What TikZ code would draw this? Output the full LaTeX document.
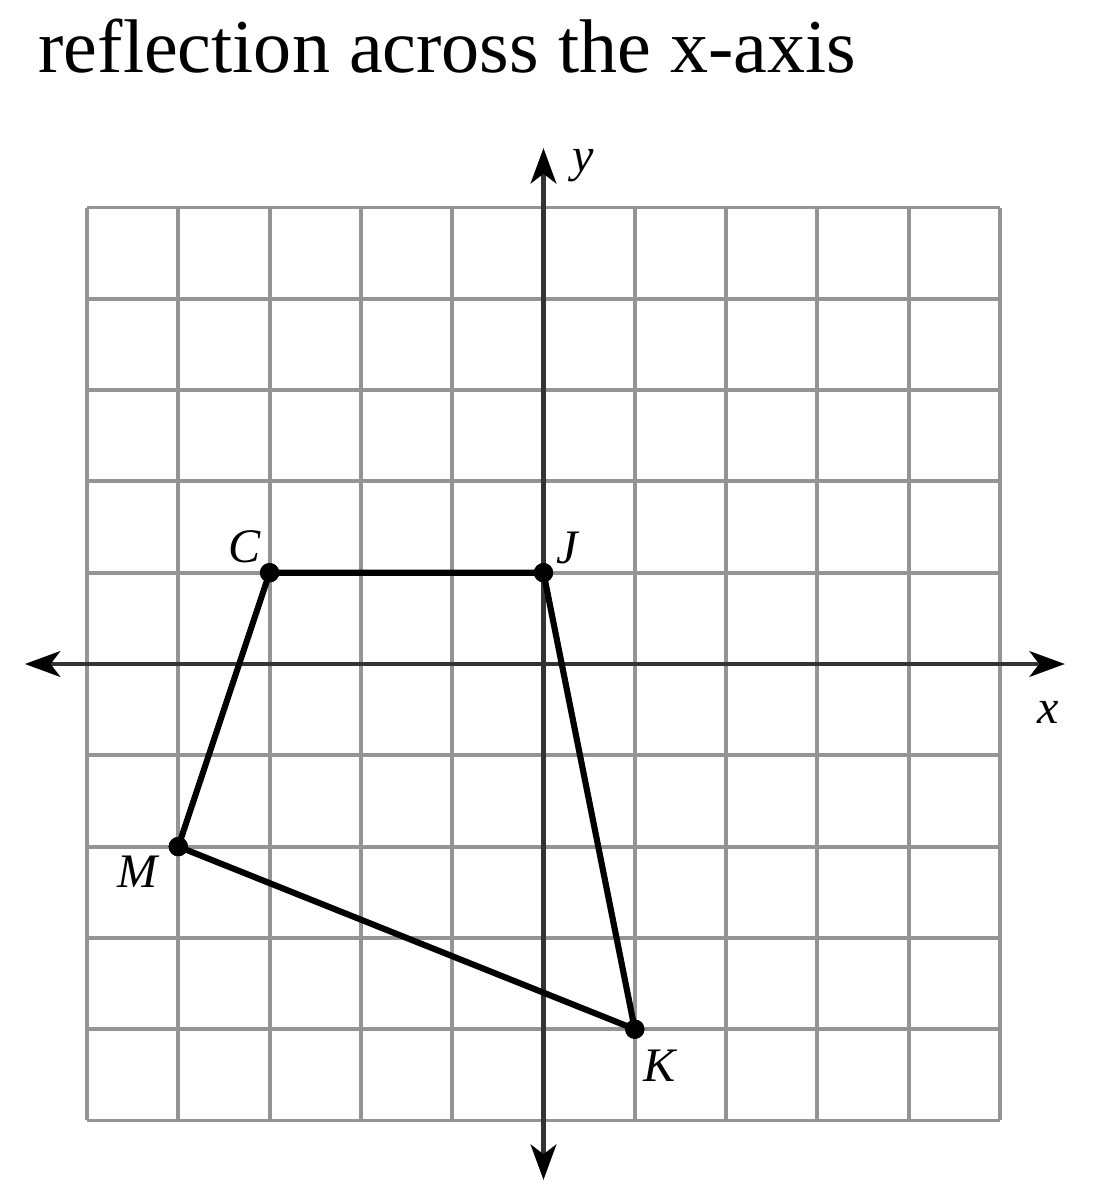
\documentclass[tikz,border=0pt]{standalone}
\usepackage{fontspec}
\setmainfont{Liberation Serif}
\usetikzlibrary{arrows.meta}
\begin{document}
\begin{tikzpicture}[x=1cm,y=1cm,
  gridline/.style={draw=black!42, line width=1.2pt},
  axisline/.style={draw=black!80, line width=1.3pt, {Stealth[length=11pt,width=8pt,inset=3pt,black]}-{Stealth[length=11pt,width=8pt,inset=3pt,black]}},
  side/.style={draw=black, line width=1.9pt, line join=round},
  vtx/.style={circle, fill=black, inner sep=0pt, minimum size=6pt},
  lbl/.style={font=\fontsize{15pt}{17pt}\selectfont\itshape, inner sep=0pt}]
\useasboundingbox (-5.953,-5.849) rectangle (6.030,7.273);
% title
\node[anchor=base west, inner sep=0pt, font=\fontsize{23.7pt}{28pt}\selectfont] (title) at (-5.537,6.484) {reflection across the x-axis};
% grid
\draw[gridline] (-5,-5) grid (5,5);
% axes
\coordinate (xl) at (-5.68,0);
\coordinate (xr) at (5.71,0);
\coordinate (yb) at (0,-5.65);
\coordinate (yt) at (0,5.65);
\draw[axisline] (xl) -- (xr);
\draw[axisline] (yb) -- (yt);
\node[lbl] (xlab) at (5.53,-0.526) {x};
\node[lbl] (ylab) at (0.43,5.455) {y};
% vertices
\node[vtx] (C) at (-3,1) {};
\node[vtx] (J) at (0,1) {};
\node[vtx] (K) at (1,-4) {};
\node[vtx] (M) at (-4,-2) {};
\draw[side] (C.center) -- (J.center) -- (K.center) -- (M.center) -- cycle;
\node[vtx] at (C) {};
\node[vtx] at (J) {};
\node[vtx] at (K) {};
\node[vtx] at (M) {};
\node[lbl] (Cl) at (-3.27,1.28) {C};
\node[lbl] (Jl) at (0.26,1.27) {J};
\node[lbl] (Ml) at (-4.45,-2.28) {M};
\node[lbl] (Kl) at (1.27,-4.40) {K};
\end{tikzpicture}
\end{document}
